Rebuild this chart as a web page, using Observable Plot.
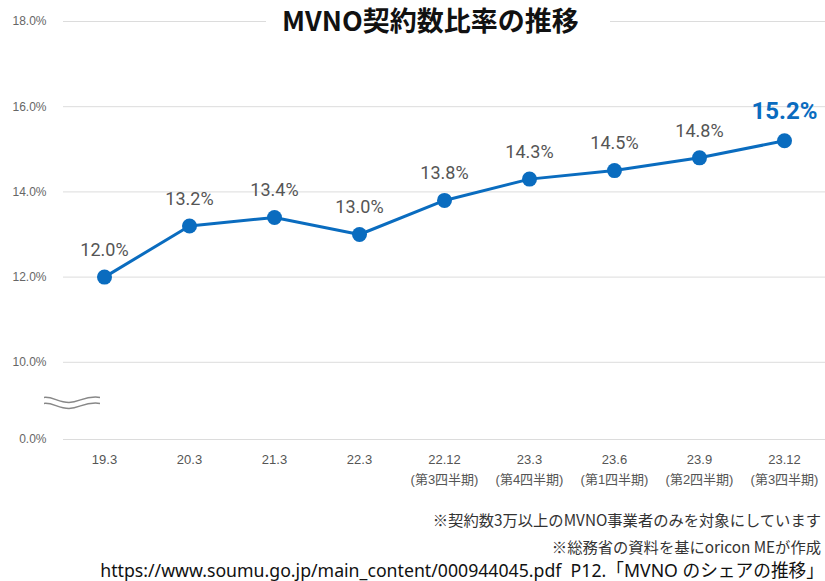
<!DOCTYPE html>
<html><head><meta charset="utf-8">
<script src="https://cdn.jsdelivr.net/npm/d3@7"></script>
<script src="https://cdn.jsdelivr.net/npm/@observablehq/plot@0.6"></script>
<style>
body{margin:0;background:#fff;font-family:"Noto Sans CJK JP","Noto Sans",sans-serif;}
#wrap{position:relative;width:825px;height:581px;overflow:hidden;}
#chart{position:absolute;left:0;top:0;}
#title{position:absolute;top:0px;left:266px;width:344px;height:40px;line-height:40px;background:#fff;padding-left:16px;box-sizing:border-box;font-size:27px;font-weight:bold;color:#111;white-space:nowrap;}
.note{position:absolute;right:4px;white-space:nowrap;color:#333;font-size:15.3px;}
#n1{top:506px;line-height:26px;}
#n2{top:533px;line-height:26px;}
#n3{top:559px;line-height:22px;font-size:17.7px;color:#111;right:1px;font-family:"Noto Sans","Noto Sans CJK JP",sans-serif;}
</style></head>
<body>
<div id="wrap">
<div id="chart"></div>
<div id="title">MVNO契約数比率の推移</div>
<div class="note" id="n1">※契約数3万以上のMVNO事業者のみを対象にしています</div>
<div class="note" id="n2">※総務省の資料を基にoricon MEが作成</div>
<div class="note" id="n3">https://www.soumu.go.jp/main_content/000944045.pdf&nbsp;&nbsp;P12.「MVNO のシェアの推移」</div>
</div>
<script>
const periods = ["19.3","20.3","21.3","22.3","22.12","23.3","23.6","23.9","23.12"];
const quarters = ["","","","","(第3四半期)","(第4四半期)","(第1四半期)","(第2四半期)","(第3四半期)"];
const rates = [12.0,13.2,13.4,13.0,13.8,14.3,14.5,14.8,15.2];
const yTicks = [0,10,12,14,16,18];
const yTickLabels = ["0.0%","10.0%","12.0%","14.0%","16.0%","18.0%"];
const breakValue = 5;

// broken axis: values below 10% are compressed
const yPos = (v) => v >= 10 ? v : 10 - (10 - v) * 0.1812;

const blue = "#0a6cbf";
const data = periods.map((p,i)=>({period:p, rate:rates[i], last:i===periods.length-1}));
const tickPos = yTicks.map(yPos);

function breakMark(index, scales, values, dims) {
  const g = d3.create("svg:g");
  const y0 = scales.y(yPos(breakValue));
  const d = "M0,0 C9,-1 14,5 25,5 C36,5 40,-2 56,0";
  for (const off of [-3, 3]) {
    g.append("path").attr("d", d).attr("fill","none").attr("stroke","#888").attr("stroke-width",1.5)
      .attr("transform", `translate(44,${y0+off})`);
  }
  return g.node();
}

const chart = Plot.plot({
  width: 825,
  height: 495,
  marginLeft: 63,
  marginRight: 0,
  marginTop: 21,
  marginBottom: 56,
  style: {fontFamily: "'Liberation Sans','Noto Sans CJK JP',sans-serif", background: "#fff"},
  x: {type: "point", domain: periods, padding: 0.45},
  y: {domain: [yPos(0), 18]},
  marks: [
    Plot.gridY(tickPos, {stroke: "#dcdcdc", strokeOpacity: 1, strokeWidth: 1}),
    Plot.axisY({ticks: tickPos, tickFormat: (d) => yTickLabels[tickPos.indexOf(d)], tickSize: 0, tickPadding: 17, fontSize: 12, fill: "#666", label: null}),
    Plot.axisX({tickFormat: (d) => { const i = periods.indexOf(d); return quarters[i] ? d + "\n" + quarters[i] : d; }, tickSize: 0, tickPadding: 10, fontSize: 13, fill: "#555", lineHeight: 1.54, label: null}),
    breakMark,
    Plot.line(data, {x: "period", y: d => yPos(d.rate), stroke: blue, strokeWidth: 3}),
    Plot.dot(data, {x: "period", y: d => yPos(d.rate), r: 7.5, fill: blue}),
    Plot.text(data.filter(d => !d.last), {x: "period", y: d => yPos(d.rate), text: d => d.rate.toFixed(1) + "%", dy: -27, fontSize: 18, fill: "#555", fontFamily: "Roboto"}),
    Plot.text(data.filter(d => d.last), {x: "period", y: d => yPos(d.rate), text: d => d.rate.toFixed(1) + "%", dy: -29.5, fontSize: 24, fontWeight: "bold", fill: blue, fontFamily: "Roboto"})
  ]
});
document.getElementById("chart").appendChild(chart);
</script>
</body></html>
